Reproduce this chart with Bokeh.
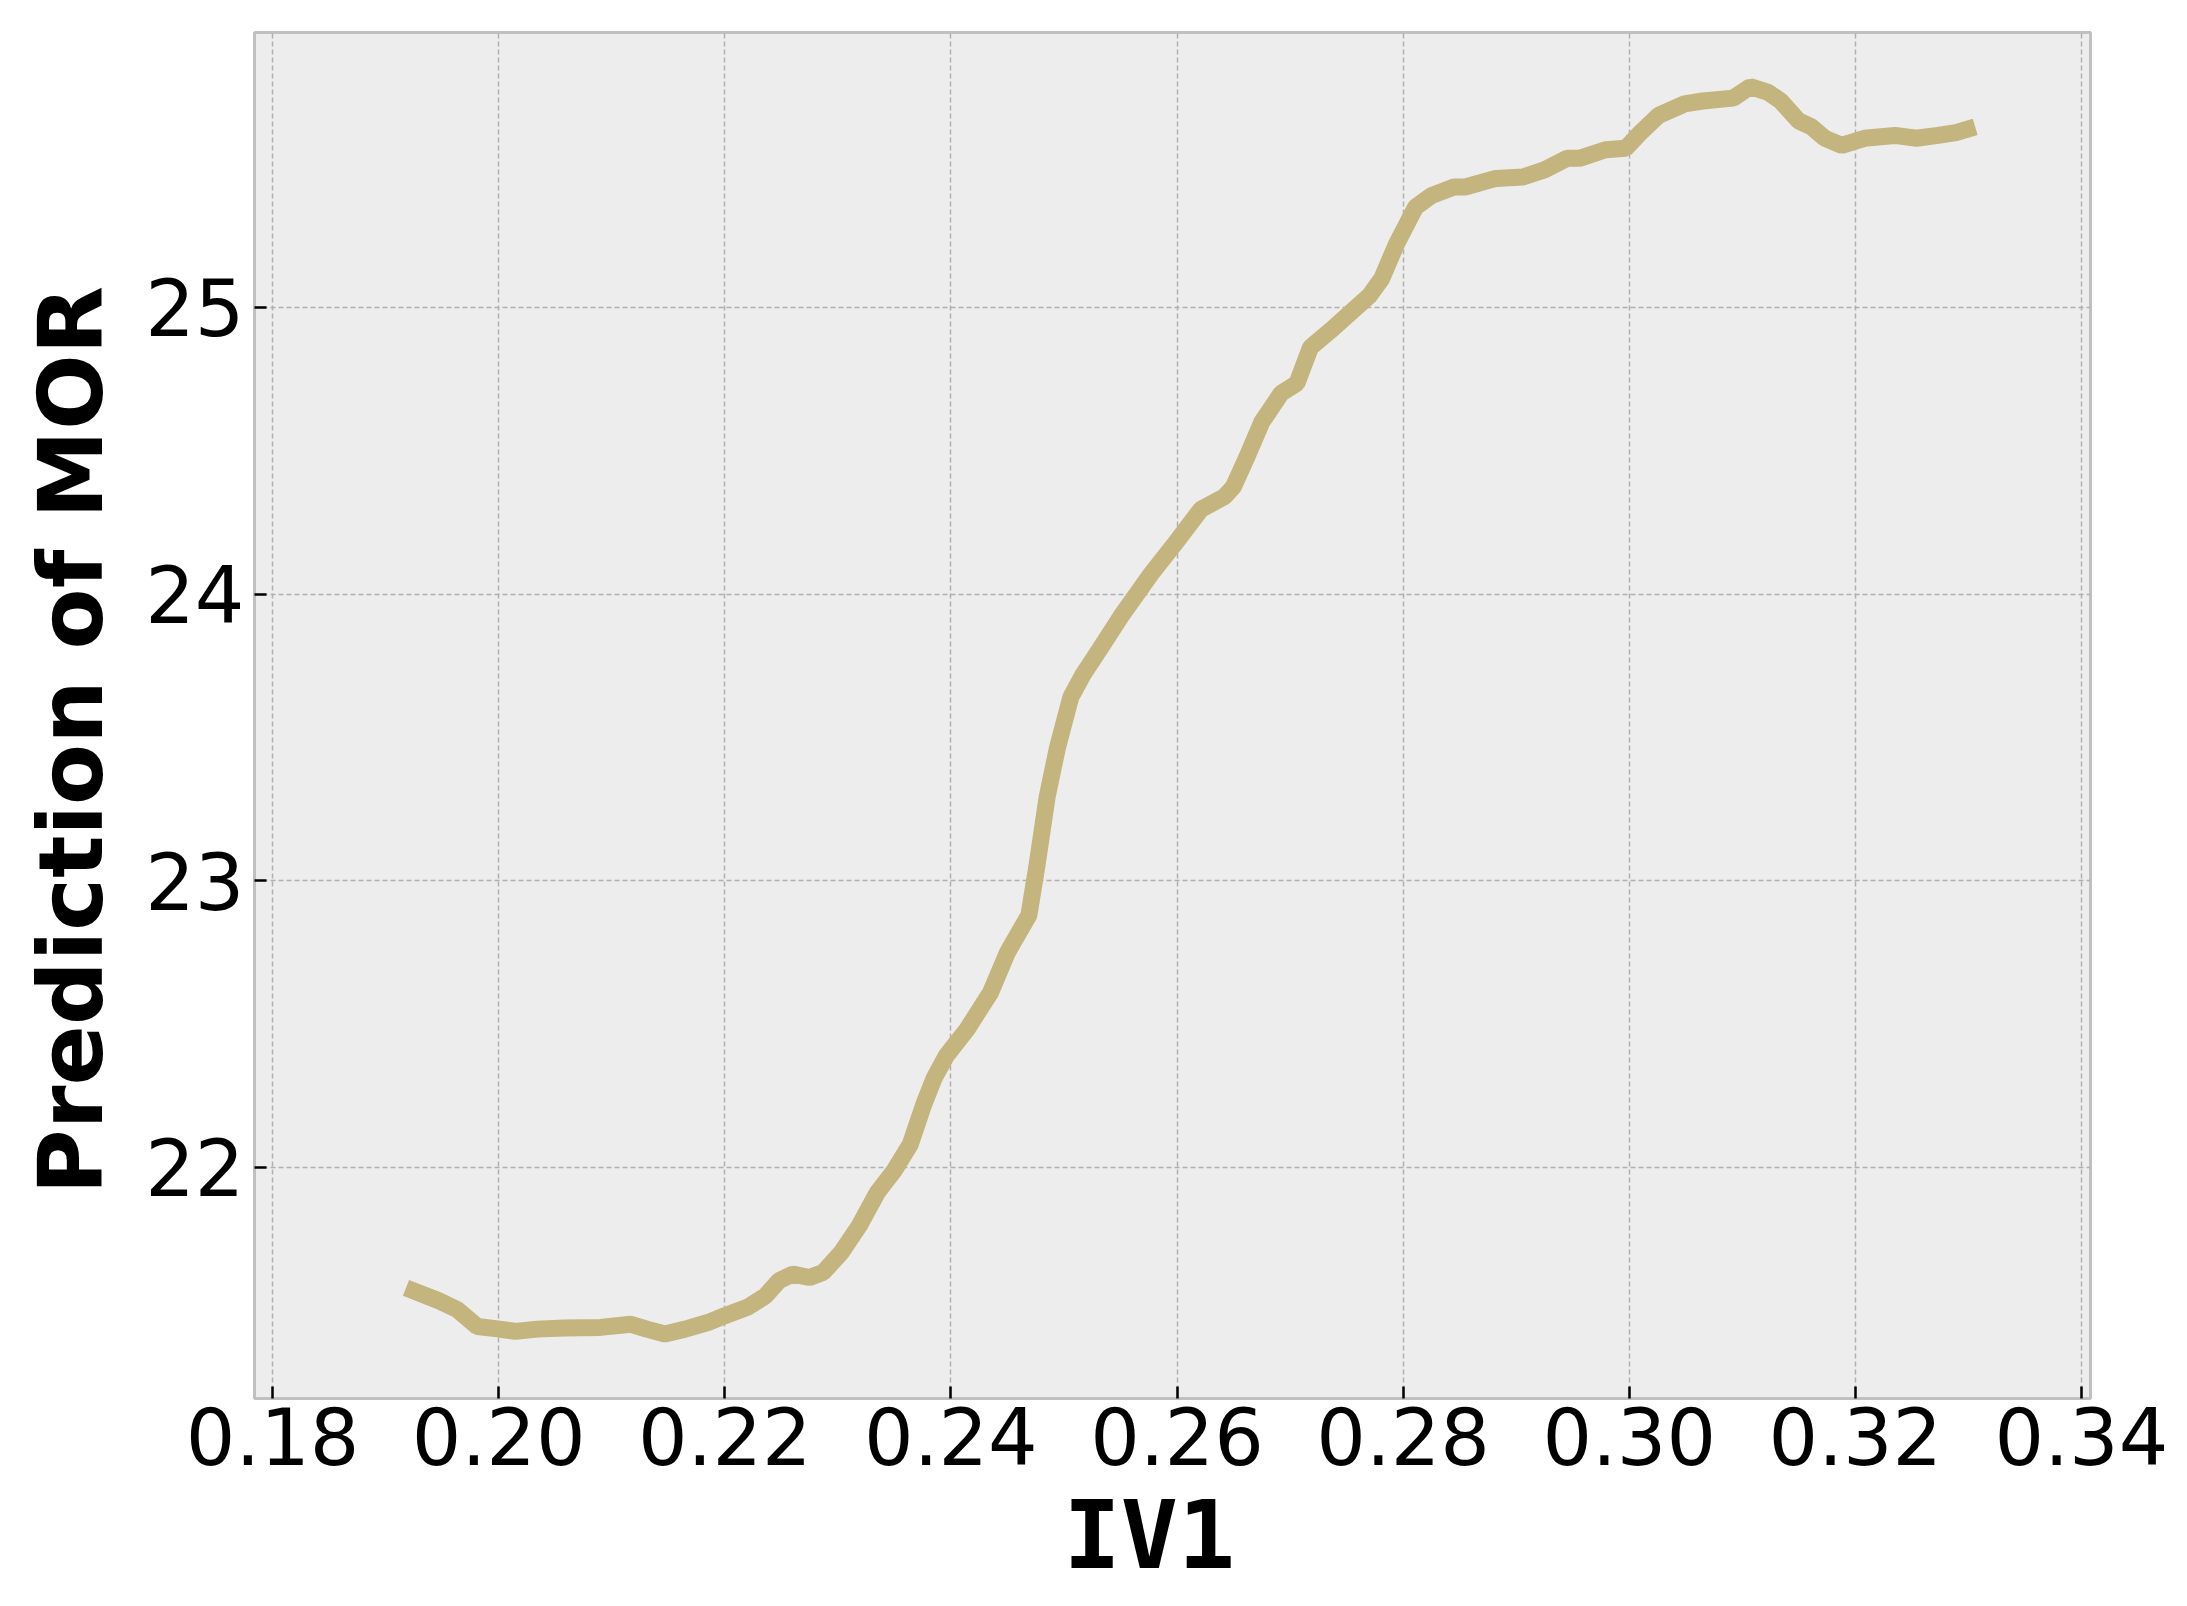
from bokeh.plotting import figure
from bokeh.models import FixedTicker, PrintfTickFormatter, Range1d, Title
from bokeh.embed import file_html
from bokeh.resources import INLINE

# ---- data ----
iv1 = [0.1918, 0.1947, 0.1963, 0.1981, 0.1999, 0.2015, 0.2034, 0.2058, 0.2090, 0.2117,
       0.2131, 0.2147, 0.2165, 0.2185, 0.2200, 0.2220, 0.2236, 0.2248, 0.2260, 0.2275,
       0.2287, 0.2303, 0.2319, 0.2335, 0.2350, 0.2364, 0.2376, 0.2385, 0.2396, 0.2414,
       0.2435, 0.2450, 0.2469, 0.2476, 0.2485, 0.2494, 0.2506, 0.2517, 0.2532, 0.2550,
       0.2577, 0.2597, 0.2621, 0.2642, 0.2650, 0.2662, 0.2675, 0.2692, 0.2706, 0.2718,
       0.2736, 0.2753, 0.2770, 0.2781, 0.2794, 0.2811, 0.2825, 0.2845, 0.2855, 0.2882,
       0.2906, 0.2925, 0.2945, 0.2956, 0.2979, 0.2997, 0.3010, 0.3026, 0.3049, 0.3065,
       0.3092, 0.3107, 0.3123, 0.3134, 0.3150, 0.3161, 0.3173, 0.3188, 0.3208, 0.3235,
       0.3254, 0.3273, 0.3289, 0.3306]
mor_pred = [21.58, 21.535, 21.505, 21.445, 21.437, 21.428, 21.436, 21.44, 21.442, 21.453,
            21.436, 21.419, 21.436, 21.459, 21.483, 21.512, 21.552, 21.605, 21.628, 21.616,
            21.634, 21.703, 21.797, 21.913, 21.99, 22.08, 22.22, 22.31, 22.39, 22.48,
            22.61, 22.75, 22.88, 23.05, 23.29, 23.46, 23.64, 23.72, 23.81, 23.92,
            24.07, 24.17, 24.295, 24.34, 24.375, 24.48, 24.60, 24.70, 24.735, 24.86,
            24.92, 24.98, 25.04, 25.10, 25.22, 25.35, 25.39, 25.42, 25.42, 25.45,
            25.455, 25.48, 25.52, 25.52, 25.55, 25.555, 25.61, 25.67, 25.71, 25.72,
            25.73, 25.77, 25.75, 25.72, 25.65, 25.63, 25.59, 25.565, 25.59, 25.60,
            25.59, 25.60, 25.61, 25.63]

x_ticks = [0.18, 0.20, 0.22, 0.24, 0.26, 0.28, 0.30, 0.32, 0.34]
y_ticks = [22, 23, 24, 25]

x_label = "IV1"
y_label = "Prediction of MOR"

p = figure(frame_width=1836, frame_height=1366,
           min_border_left=254, min_border_right=80, min_border_top=32, min_border_bottom=150,
           x_range=Range1d(0.1784, 0.3408), y_range=Range1d(21.194, 25.959),
           output_backend="svg", toolbar_location=None)

p.background_fill_color = "#ededed"
p.border_fill_color = "white"
p.outline_line_color = "#c0c0c0"
p.outline_line_width = 3

p.line(iv1, mor_pred, line_color="#c4b47e", line_width=17)

for ax in (p.xaxis[0], p.yaxis[0]):
    ax.axis_line_color = None
    ax.major_tick_in = 12
    ax.major_tick_out = 0
    ax.major_tick_line_color = "black"
    ax.major_tick_line_width = 2.5
    ax.minor_tick_line_color = None
    ax.major_label_text_font = "DejaVu Sans"
    ax.major_label_text_font_size = "78px"
    ax.major_label_text_color = "black"

p.xaxis[0].ticker = FixedTicker(ticks=x_ticks)
p.xaxis[0].formatter = PrintfTickFormatter(format="%.2f")
p.xaxis[0].major_label_standoff = 8
p.yaxis[0].ticker = FixedTicker(ticks=y_ticks)
p.yaxis[0].formatter = PrintfTickFormatter(format="%d")
p.yaxis[0].major_label_standoff = 10

# axis titles as side-panel titles, shifted along the axis like the reference
ty = Title(text=y_label, align="left", vertical_align="top", offset=204, standoff=35,
           text_font="DejaVu Sans", text_font_style="bold", text_font_size="89px",
           text_color="black")
p.add_layout(ty, "left")
tx = Title(text=x_label, align="left", vertical_align="top", offset=809, standoff=24,
           text_font="DejaVu Sans Mono", text_font_style="bold", text_font_size="95px",
           text_color="black")
p.add_layout(tx, "below")

for g in (p.xgrid[0], p.ygrid[0]):
    g.grid_line_color = "#b0b0b0"
    g.grid_line_dash = "5 3"
    g.grid_line_width = 1.5

open("out.html", "w").write(file_html(p, INLINE))
